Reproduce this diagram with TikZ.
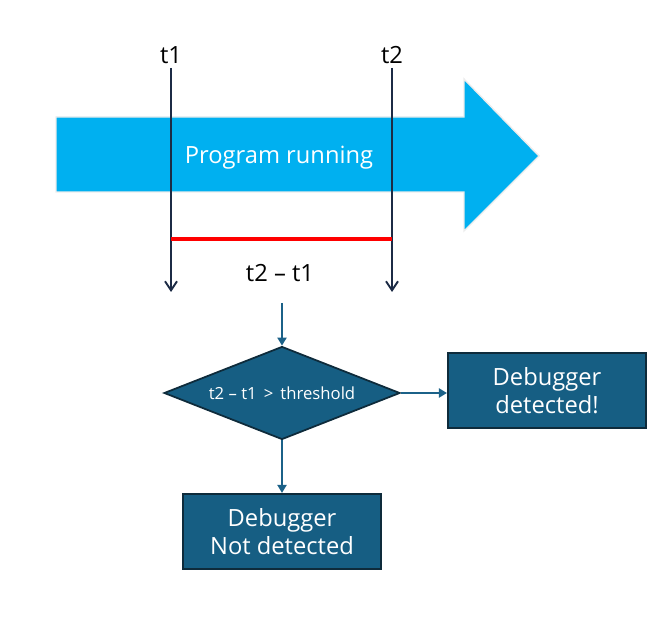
\documentclass[tikz,border=0pt]{standalone}
\usepackage{fontspec}
\setmainfont{Open Sans}
\usepackage{xcolor}
\usetikzlibrary{arrows.meta, positioning, shapes.geometric}

\definecolor{runblue}{HTML}{00B0F0}
\definecolor{tickcol}{HTML}{1C2B45}
\definecolor{boxfill}{HTML}{165E83}
\definecolor{boxline}{HTML}{0E2B3B}
\definecolor{flowcol}{HTML}{1B6188}

\begin{document}
\begin{tikzpicture}[
  x=0.02cm, y=-0.02cm,
  bigtxt/.style={font=\fontsize{13.5}{16}\selectfont},
  tick/.style={-{Straight Barb[length=1.8mm, width=2.4mm]}, draw=tickcol, line width=1.1pt},
  flow/.style={-{Triangle[length=1.6mm, width=1.8mm]}, draw=flowcol, line width=1.1pt},
  resbox/.style={draw=boxline, fill=boxfill, line width=1.2pt, minimum width=3.96cm,
               minimum height=1.5cm, align=center, text=white, bigtxt},
  cond/.style={diamond, aspect=2.54, draw=boxline, fill=boxfill, line width=1pt, inner sep=0pt,
               minimum width=4.72cm, minimum height=1.86cm, text=white,
               font=\fontsize{9.5}{11}\selectfont}
]
\useasboundingbox (0,0) rectangle (662,617);

% the running program
\filldraw[fill=runblue, draw=gray!15, line width=0.8pt]
  (56,117) -- (464,117) -- (464,79) -- (539,156) -- (464,231) -- (464,192) -- (56,192) -- cycle;
\node[bigtxt, text=white] (run) at (279,158) {Program running};

% timestamps
\coordinate (t1top) at (171,68);
\coordinate (t2top) at (392,68);
\node[bigtxt, inner sep=2pt, above=0pt of t1top] (t1) {t1};
\node[bigtxt, inner sep=2pt, above=0pt of t2top] (t2) {t2};
\coordinate (t1end) at (171,292);
\coordinate (t2end) at (392,292);
\coordinate (r1) at (171,239);
\coordinate (r2) at (392,239);
\node[bigtxt] (diff) at (280,273) {t2 – t1};

% check
\coordinate (chk) at (282,303);
\node[cond] (test) at (282,393) {t2 – t1 \,>\, threshold};
\node[resbox] (hit) at (547,390.5) {Debugger\\detected!};
\node[resbox] (miss) at (282,531.5) {Debugger\\Not detected};

\draw[tick] (t1top) -- (t1end);
\draw[tick] (t2top) -- (t2end);
\draw[red, line width=2.8pt] (r1) -- (r2);
\draw[flow] (chk) -- (test);
\draw[flow] (test.east) -- (test.east -| hit.west);
\draw[flow] (test) -- (miss);
\end{tikzpicture}
\end{document}
